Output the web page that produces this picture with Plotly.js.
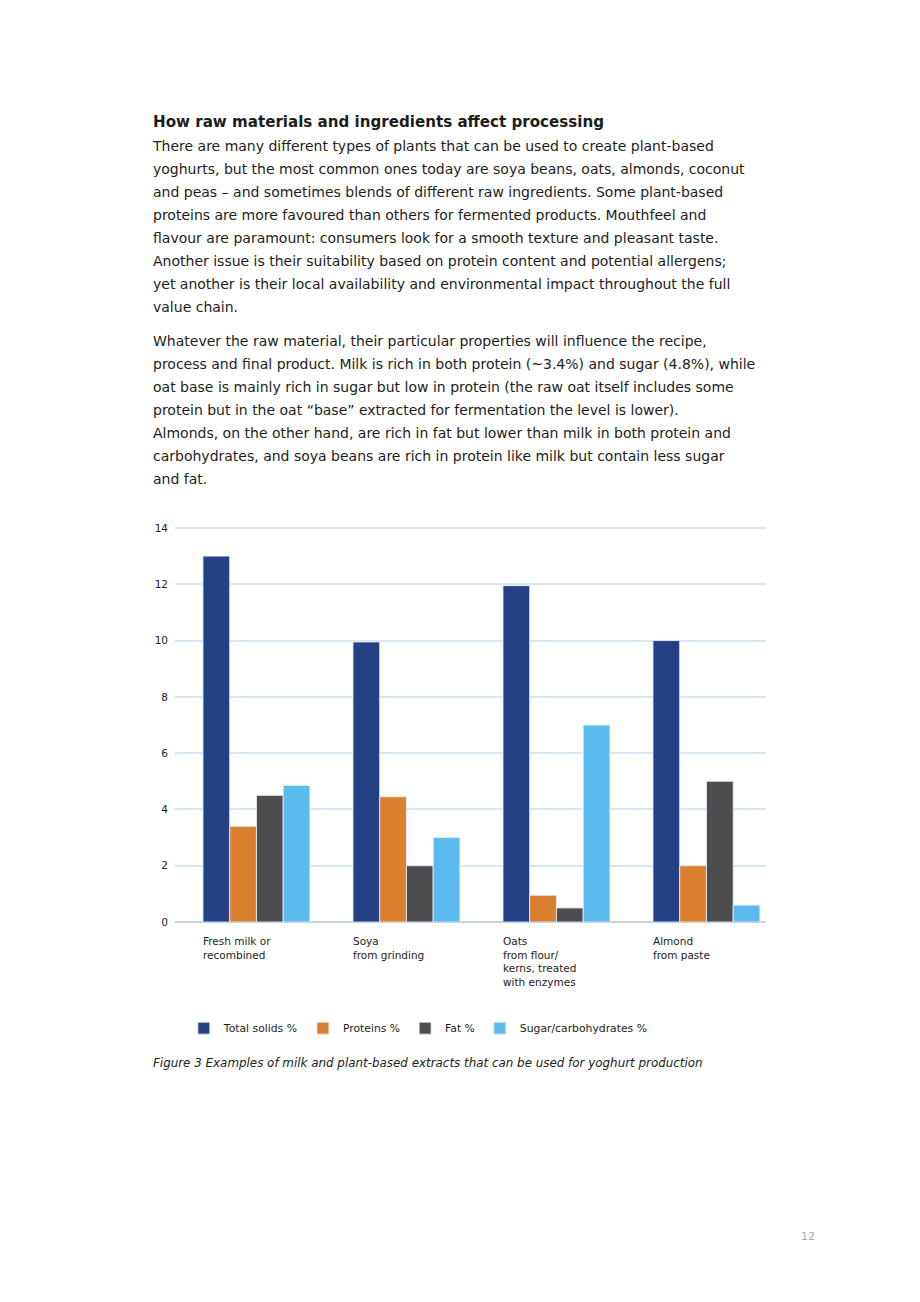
<!DOCTYPE html>
<html>
<head>
<meta charset="utf-8">
<script src="https://cdn.plot.ly/plotly-3.0.1.min.js"></script>
<style>
  html, body { margin: 0; padding: 0; background: #fff; }
  #page { position: relative; width: 920px; height: 1302px; overflow: hidden; }
  #chart { position: absolute; left: 0; top: 0; width: 920px; height: 1302px; }
  .txt { position: absolute; font-family: "DejaVu Sans", sans-serif; color: #1d1d1b; pointer-events: none; white-space: nowrap; }
  #title { left: 153px; top: 111px; font-size: 15.1px; font-weight: bold; line-height: 23px; }
  .para { left: 153px; font-size: 14px; line-height: 23px; }
  #p1 { top: 135px; }
  #p2 { top: 330px; }
  #caption { left: 153px; top: 1055px; font-size: 11.9px; font-style: italic; line-height: 16px; color: #222; }
  #pageno { left: 801px; top: 1229px; font-size: 11px; color: #aaaaaa; line-height: 16px; }
</style>
</head>
<body>
<div id="page">
  <div id="chart"></div>
  <div id="title" class="txt">How raw materials and ingredients affect processing</div>
  <div id="p1" class="txt para">There are many different types of plants that can be used to create plant-based<br>yoghurts, but the most common ones today are soya beans, oats, almonds, coconut<br>and peas – and sometimes blends of different raw ingredients. Some plant-based<br>proteins are more favoured than others for fermented products. Mouthfeel and<br>flavour are paramount: consumers look for a smooth texture and pleasant taste.<br>Another issue is their suitability based on protein content and potential allergens;<br>yet another is their local availability and environmental impact throughout the full<br>value chain.</div>
  <div id="p2" class="txt para">Whatever the raw material, their particular properties will influence the recipe,<br>process and final product. Milk is rich in both protein (~3.4%) and sugar (4.8%), while<br>oat base is mainly rich in sugar but low in protein (the raw oat itself includes some<br>protein but in the oat “base” extracted for fermentation the level is lower).<br>Almonds, on the other hand, are rich in fat but lower than milk in both protein and<br>carbohydrates, and soya beans are rich in protein like milk but contain less sugar<br>and fat.</div>
  <div id="caption" class="txt">Figure 3 Examples of milk and plant-based extracts that can be used for yoghurt production</div>
  <div id="pageno" class="txt">12</div>
</div>
<script>
// ---- data ----
var categories = [
  "Fresh milk or<br>recombined",
  "Soya<br>from grinding",
  "Oats<br>from flour/<br>kerns, treated<br>with enzymes",
  "Almond<br>from paste"
];
var seriesNames = ["Total solids %", "Proteins %", "Fat %", "Sugar/carbohydrates %"];
var totalSolids = [13, 9.95, 11.95, 10];
var proteins    = [3.4, 4.45, 0.95, 2];
var fat         = [4.5, 2, 0.5, 5];
var sugar       = [4.85, 3, 7, 0.6];
var yTicks      = [0, 2, 4, 6, 8, 10, 12, 14];

var colors = ["#244185", "#DA7F2D", "#4D4D4F", "#5BBAEE"];
var values = [totalSolids, proteins, fat, sugar];

var traces = values.map(function (v, i) {
  return {
    type: "bar",
    name: seriesNames[i],
    x: categories,
    y: v,
    marker: { color: colors[i], line: { color: "rgba(230,236,242,0.9)", width: 1 } },
    hoverinfo: "x+y+name"
  };
});

var annotations = categories.map(function (c) {
  return {
    x: c, y: 0, xref: "x", yref: "y",
    text: c, showarrow: false,
    xanchor: "left", yanchor: "top", align: "left",
    xshift: -55, yshift: -11,
    font: { family: "DejaVu Sans, sans-serif", size: 10.5, color: "#1d1d1b" }
  };
});

var layout = {
  width: 920, height: 1302,
  margin: { l: 175, r: 154, t: 526, b: 380, pad: 0 },
  paper_bgcolor: "rgba(0,0,0,0)",
  plot_bgcolor: "rgba(0,0,0,0)",
  barmode: "group",
  bargap: 0.287,
  bargroupgap: 0,
  showlegend: true,
  legend: {
    orientation: "h", x: 0.015, xanchor: "left", y: -0.268, yanchor: "middle",
    font: { family: "DejaVu Sans, sans-serif", size: 10.8, color: "#1d1d1b" },
    traceorder: "normal"
  },
  xaxis: {
    type: "category", range: [-0.543, 3.397],
    showticklabels: false, showgrid: false, showline: false, zeroline: false, ticks: ""
  },
  yaxis: {
    range: [0, 14.07], tickvals: yTicks, ticktext: yTicks.map(String),
    showgrid: true, gridcolor: "#d8e7f4", gridwidth: 2,
    zeroline: true, zerolinecolor: "#c5d3df", zerolinewidth: 2,
    showline: false, ticks: "",
    tickfont: { family: "DejaVu Sans, sans-serif", size: 10.5, color: "#1d1d1b" },
    ticklabelstandoff: 6
  },
  annotations: annotations,
  font: { family: "DejaVu Sans, sans-serif" }
};

Plotly.newPlot("chart", traces, layout, { displayModeBar: false, staticPlot: true });
</script>
</body>
</html>
